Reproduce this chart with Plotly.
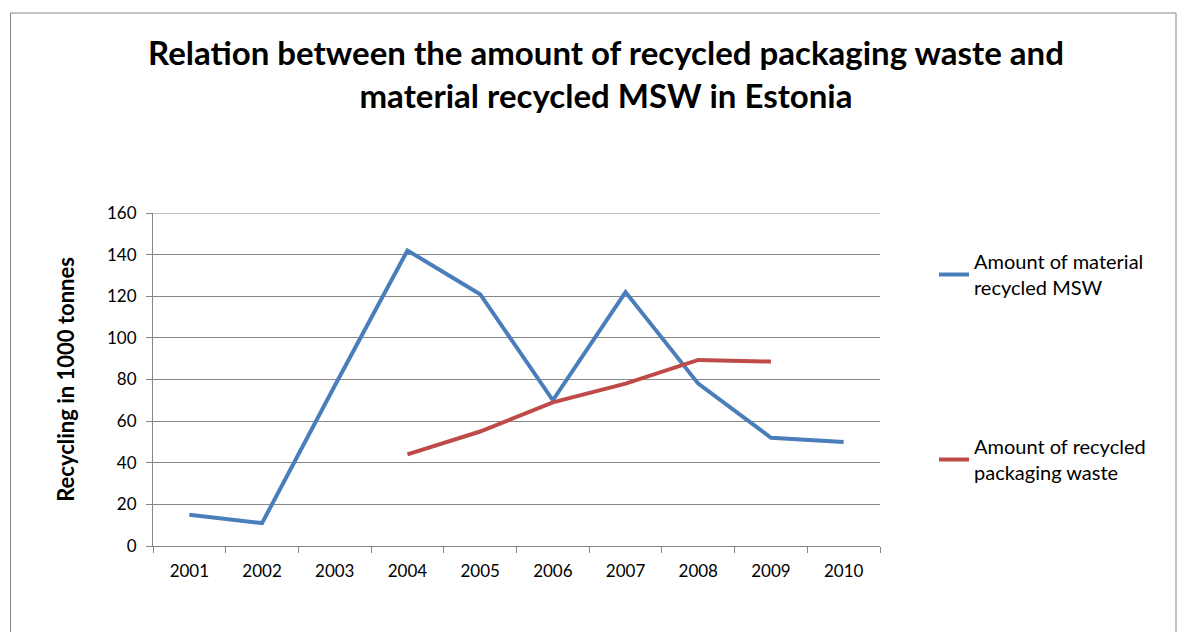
import plotly.graph_objects as go

years = ["2001", "2002", "2003", "2004", "2005", "2006", "2007", "2008", "2009", "2010"]
msw = [15, 11, 77, 142, 121, 70, 122, 78, 52, 50]
packaging = [None, None, None, 44, 55, 69, 78, 89.4, 88.6, None]
y_ticks = [0, 20, 40, 60, 80, 100, 120, 140, 160]

FONT = "Lato"
fig = go.Figure()
fig.add_trace(go.Scatter(x=years, y=msw, mode="lines", name="Amount of material<br>recycled MSW",
                         line=dict(color="#4A7EBB", width=4), legendgroup="a"))
fig.add_trace(go.Scatter(x=years, y=packaging, mode="lines", name="Amount of recycled<br>packaging waste",
                         line=dict(color="#BE4B48", width=4), legendgroup="b", connectgaps=False))

L, R, T, B = 153, 1187 - 880, 213, 632 - 546
W, H = 880 - 153, 546 - 213

def px(x):
    return (x - L) / W

def py(y):
    return (546 - y) / H

fig.update_layout(
    width=1187, height=632,
    margin=dict(l=L, r=R, t=T, b=B),
    paper_bgcolor="white", plot_bgcolor="white",
    font=dict(family=FONT, size=17, color="black"),
    title=dict(text="<b>Relation between the amount of recycled packaging waste and<br>material recycled MSW in Estonia</b>",
               x=606 / 1187, xanchor="center", y=1 - 65 / 632, yanchor="middle",
               font=dict(family=FONT, size=33, color="black")),
    legend=dict(x=px(934), y=py(242), xanchor="left", yanchor="top",
                font=dict(family=FONT, size=20), tracegroupgap=130,
                bgcolor="rgba(0,0,0,0)"),
    xaxis=dict(type="category", showgrid=False, showline=True, linecolor="#868686", linewidth=1,
               ticks="outside", tickson="boundaries", ticklen=6, tickcolor="#868686",
               tickfont=dict(size=17), range=[-0.5, 9.5], ticklabelstandoff=10),
    yaxis=dict(range=[0, 160], tickvals=y_ticks, showgrid=True, gridcolor="#868686", gridwidth=1,
               showline=True, linecolor="#868686", linewidth=1, ticks="outside", ticklen=6,
               tickcolor="#868686", zeroline=False, tickfont=dict(size=17), ticklabelstandoff=6,
               title=dict(text="<b>Recycling in 1000 tonnes</b>", font=dict(size=22), standoff=26)),
    shapes=[
        dict(type="rect", xref="paper", yref="paper",
             x0=px(10.5), x1=px(1176), y0=py(660), y1=py(13),
             line=dict(color="#868686", width=1), fillcolor="rgba(0,0,0,0)", layer="below"),
        dict(type="line", xref="paper", yref="y", x0=0, x1=1, y0=160, y1=160,
             line=dict(color="#868686", width=1), layer="below"),
    ],
)
fig.write_html("out.html")
